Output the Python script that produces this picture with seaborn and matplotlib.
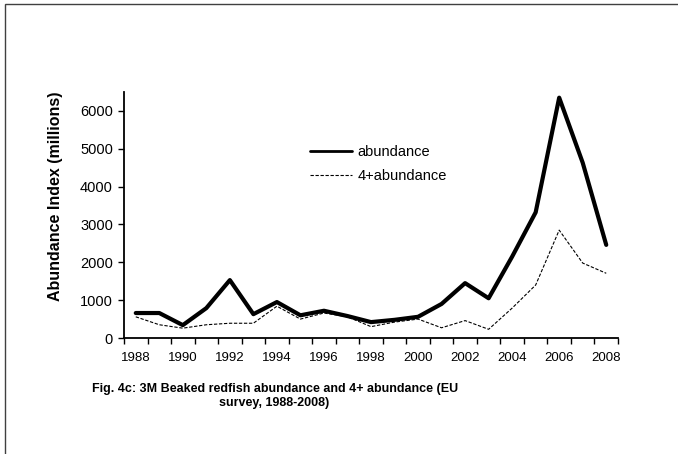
import numpy as np
import pandas as pd
import matplotlib
matplotlib.use("Agg")
import matplotlib.pyplot as plt
import matplotlib.patches as mpatches
import seaborn as sns

sns.set_theme(style="white")
plt.rcParams['font.family'] = ['Liberation Sans', 'DejaVu Sans']
plt.rcParams['text.color'] = 'black'
plt.rcParams['axes.labelcolor'] = 'black'

years = list(range(1988, 2009))
abundance = [660, 660, 340, 790, 1530, 630, 950, 600, 720, 580, 420,
             480, 560, 900, 1450, 1050, 2150, 3320, 6350, 4630, 2460]
abundance_4plus = [560, 350, 260, 350, 390, 390, 840, 500, 660, 560, 300,
                   420, 500, 270, 460, 230, 790, 1400, 2850, 1980, 1710]

df = pd.DataFrame({'year': years, 'abundance': abundance, '4+abundance': abundance_4plus})

fig = plt.figure(figsize=(6.78, 4.54), dpi=100)
ax = fig.add_axes([0.1829, 0.2555, 0.7286, 0.5419])

sns.lineplot(data=df, x='year', y='abundance', ax=ax, color='black', linewidth=3.0,
             label='abundance')
sns.lineplot(data=df, x='year', y='4+abundance', ax=ax, color='black', linewidth=0.8,
             label='4+abundance')
ax.lines[1].set_linestyle((0, (3, 1.5)))

ax.set_xlim(1987.5, 2008.5)
ax.set_ylim(0, 6500)
ax.set_xticks(years[::2])
ax.set_xticks(np.arange(1987.5, 2009, 1), minor=True)
ax.tick_params(axis='x', which='major', length=0, labelsize=9.5, pad=10, colors='black')
ax.tick_params(axis='x', which='minor', length=4, width=1, direction='out', bottom=True, color='black')
ax.set_yticks(range(0, 7000, 1000))
ax.tick_params(axis='y', length=4, width=1, direction='out', left=True, labelsize=10.5,
               pad=4, colors='black')

for s in ['top', 'right']:
    ax.spines[s].set_visible(False)
for s in ['left', 'bottom']:
    ax.spines[s].set_color('black')
    ax.spines[s].set_linewidth(1.3)

ax.set_xlabel('')
ax.set_ylabel('Abundance Index (millions)', fontsize=11.5, fontweight='bold')
ax.yaxis.set_label_coords(-0.1235, 0.577)

leg = ax.legend(loc='upper left', bbox_to_anchor=(0.3765, 0.785), frameon=False,
                fontsize=10.5, handlelength=2.9, handletextpad=0.35, labelspacing=0.7,
                borderpad=0, borderaxespad=0)
leg.get_lines()[0].set_linewidth(2.0)
leg.get_lines()[1].set_linestyle((0, (3, 1.5)))

# caption below the chart
fig.text(0.405, 0.127, 'Fig. 4c: 3M Beaked redfish abundance and 4+ abundance (EU\nsurvey, 1988-2008)',
         ha='center', va='center', fontsize=9.0, fontweight='bold', linespacing=1.2,
         color='black')

fig.patches.append(mpatches.Rectangle((5 / 678, -0.1), 1.2, 1 - 4 / 454 + 0.1,
                                      transform=fig.transFigure, fill=False,
                                      edgecolor='#404040', linewidth=1.0))

fig.savefig('out.png', dpi=100)
